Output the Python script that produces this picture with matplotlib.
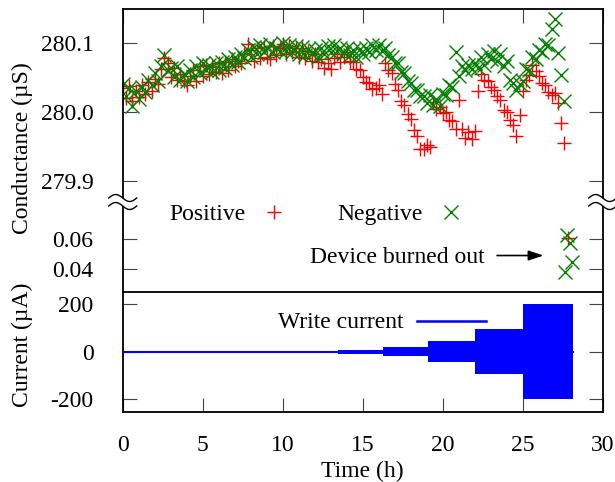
import matplotlib
matplotlib.use("Agg")
import matplotlib.pyplot as plt
import numpy as np
from matplotlib.lines import Line2D
from matplotlib.patches import Polygon

plt.rcParams["font.family"] = ["Liberation Serif", "DejaVu Serif"]
plt.rcParams["font.size"] = 17
plt.rcParams["axes.unicode_minus"] = False

# conductance read every 0.2 h (uS), positive and negative read pulses
hours = np.round(np.arange(0.0, 27.61, 0.2), 1)

g_pos = [
    280.034, 280.020, 280.037, 280.015, 280.030, 280.021, 280.038, 280.026, 280.043, 280.030,
    280.048, 280.040, 280.062, 280.078, 280.070, 280.050, 280.063, 280.046, 280.054, 280.044,
    280.038, 280.052, 280.060, 280.044, 280.066, 280.052, 280.068, 280.054, 280.065, 280.058,
    280.070, 280.056, 280.072, 280.060, 280.077, 280.066, 280.074, 280.070, 280.084, 280.098,
    280.090, 280.074, 280.092, 280.078, 280.094, 280.080, 280.076, 280.095, 280.082, 280.092,
    280.098, 280.083, 280.095, 280.086, 280.093, 280.079, 280.092, 280.078, 280.088, 280.074,
    280.084, 280.072, 280.076, 280.064, 280.070, 280.062, 280.078, 280.084, 280.072, 280.080,
    280.086, 280.074, 280.072, 280.062, 280.060, 280.050, 280.043, 280.042, 280.033, 280.035,
    280.038, 280.026, 280.070, 280.060, 280.056, 280.040, 280.032, 280.016, 280.010, 279.996,
    279.990, 279.973, 279.964, 279.946, 279.946, 279.952, 279.949, 280.014, 280.004, 280.007,
    279.998, 279.999, 279.988, 279.987, 279.975, 280.017, 279.975, 279.962, 279.970, 279.960,
    279.972, 280.030, 280.054, 280.046, 280.044, 280.036, 280.032, 280.022, 280.017, 280.003,
    280.000, 279.988, 279.980, 279.964, 279.995, 280.030, 280.046, 280.053, 280.067, 280.059,
    280.052, 280.042, 280.038, 280.028, 280.024, 280.027, 280.013, 279.984, 279.955,
]

g_neg = [
    280.040, 280.022, 280.034, 280.008, 280.030, 280.018, 280.036, 280.028, 280.046, 280.038,
    280.056, 280.044, 280.066, 280.082, 280.060, 280.064, 280.050, 280.066, 280.046, 280.055,
    280.044, 280.060, 280.050, 280.066, 280.056, 280.070, 280.060, 280.068, 280.058, 280.070,
    280.060, 280.072, 280.064, 280.076, 280.068, 280.080, 280.072, 280.084, 280.078, 280.090,
    280.080, 280.094, 280.084, 280.096, 280.086, 280.092, 280.098, 280.086, 280.093, 280.088,
    280.100, 280.088, 280.097, 280.086, 280.095, 280.084, 280.094, 280.082, 280.091, 280.084,
    280.090, 280.080, 280.093, 280.084, 280.095, 280.086, 280.096, 280.088, 280.093, 280.085,
    280.092, 280.082, 280.090, 280.080, 280.091, 280.084, 280.093, 280.086, 280.096, 280.090,
    280.097, 280.088, 280.093, 280.082, 280.080, 280.070, 280.070, 280.058, 280.056, 280.044,
    280.042, 280.032, 280.032, 280.022, 280.022, 280.013, 280.024, 280.010, 280.018, 280.008,
    280.026, 280.024, 280.038, 280.036, 280.087, 280.052, 280.066, 280.060, 280.068, 280.062,
    280.070, 280.064, 280.080, 280.068, 280.083, 280.076, 280.088, 280.074, 280.084, 280.066,
    280.074, 280.046, 280.042, 280.032, 280.040, 280.044, 280.062, 280.060, 280.080, 280.076,
    280.090, 280.086, 280.098, 280.096, 280.120, 280.135, 280.085, 280.053, 280.015,
]

# last readings after the device burned out
burn_pos_t = [27.85]
burn_pos_g = [0.0607]
burn_neg_t = [27.65, 27.75, 27.95, 28.05]
burn_neg_g = [0.0378, 0.063, 0.0573, 0.045]

# write current stages (uA amplitude)
stage_start = [0.0, 5.35, 13.48, 16.29, 19.10, 22.02, 25.04]
stage_end = [5.35, 13.48, 16.29, 19.10, 22.02, 25.04, 28.16]
stage_amp = [1.5, 3, 8, 20, 45, 95, 200]

time_ticks = [0, 5, 10, 15, 20, 25, 30]

RED = "#ff0000"
GREEN = "#008000"
BLUE = "#0000ff"
W, H = 615, 482


def px_box(left, top, right, bottom):
    return [left / W, 1 - bottom / H, (right - left) / W, (bottom - top) / H]


def break_mark(fig, xc, yc):
    u = np.linspace(0, 1, 40)
    xs = (xc - 14 + 28 * u) / W
    wave = 3.5 * np.sin(2 * np.pi * u) / H
    up = (H - (yc - 4)) / H + wave
    lo = (H - (yc + 4)) / H + wave
    poly = np.column_stack([np.r_[xs, xs[::-1]], np.r_[up, lo[::-1]]])
    fig.patches.append(Polygon(poly, closed=True, transform=fig.transFigure,
                               facecolor="white", edgecolor="none", zorder=5))
    for ys in (up, lo):
        fig.lines.append(Line2D(xs, ys, transform=fig.transFigure, color="black",
                                lw=1.0, zorder=6))


fig = plt.figure(figsize=(6.15, 4.82), dpi=100)
ax_top = fig.add_axes(px_box(122.7, 8.7, 602.7, 201.7))
ax_mid = fig.add_axes(px_box(122.7, 201.7, 602.7, 291.7))
ax_bot = fig.add_axes(px_box(122.7, 291.7, 602.7, 411.7))

for ax in (ax_top, ax_mid, ax_bot):
    ax.set_xlim(0, 30)
    ax.set_xticks(time_ticks)
    for s in ax.spines.values():
        s.set_linewidth(1.3)
    ax.tick_params(direction="in", length=10, width=0.8, color="#444444",
                   left=True, right=True, labelsize=17)
    ax.tick_params(axis="y", pad=21)

# top: conductance around 280 uS
ax_top.plot(hours, g_pos, ls="none", marker="+", ms=10, mew=1.0, color=RED)
ax_top.plot(hours, g_neg, ls="none", marker="x", ms=10.5, mew=1.0, color=GREEN)
ax_top.set_ylim(279.8693, 280.1494)
ax_top.set_yticks([279.9, 280.0, 280.1])
ax_top.set_yticklabels(["279.9", "280.0", "280.1"])
ax_top.spines["bottom"].set_visible(False)
ax_top.tick_params(axis="x", top=True, bottom=False, labelbottom=False, labeltop=False)

# middle: burned-out readings
ax_mid.plot(burn_pos_t, burn_pos_g, ls="none", marker="+", ms=10, mew=1.0, color=RED)
ax_mid.plot(burn_neg_t, burn_neg_g, ls="none", marker="x", ms=10.5, mew=1.0, color=GREEN)
ax_mid.set_ylim(0.0249, 0.0851)
ax_mid.set_yticks([0.04, 0.06])
ax_mid.set_yticklabels(["0.04", "0.06"])
ax_mid.spines["top"].set_visible(False)
ax_mid.spines["bottom"].set_visible(False)
ax_mid.tick_params(axis="x", top=False, bottom=False, labelbottom=False)

ax_mid.text(0.257, 0.797, "Positive", transform=ax_mid.transAxes, ha="right", va="baseline")
ax_mid.plot([0.315], [0.886], transform=ax_mid.transAxes, marker="+", ms=10, mew=1.0,
            color=RED, clip_on=False)
ax_mid.text(0.626, 0.797, "Negative", transform=ax_mid.transAxes, ha="right", va="baseline")
ax_mid.plot([0.683], [0.886], transform=ax_mid.transAxes, marker="x", ms=10.5, mew=1.0,
            color=GREEN, clip_on=False)
ax_mid.text(22.64, 0.044, "Device burned out", ha="right", va="baseline")
ax_mid.annotate("", xy=(26.3, 0.0491), xytext=(23.4, 0.0491),
                arrowprops=dict(arrowstyle="-|>,head_length=0.45,head_width=0.15",
                                mutation_scale=20, color="black", lw=1.2,
                                shrinkA=0, shrinkB=0))

# bottom: write current
ax_bot.plot([stage_start[0], stage_end[-1]], [0, 0], color=BLUE, lw=1.5)
for s, e, a in zip(stage_start, stage_end, stage_amp):
    ax_bot.fill_between([s, e], -a, a, color=BLUE, lw=0)
ax_bot.set_ylim(-252, 252)
ax_bot.set_yticks([-200, 0, 200])
ax_bot.tick_params(axis="x", top=False, bottom=True, pad=16.5)
ax_bot.text(0.584, 0.695, "Write current", transform=ax_bot.transAxes, ha="right",
            va="baseline")
ax_bot.plot([0.6125, 0.7563], [0.758, 0.758], transform=ax_bot.transAxes, color=BLUE, lw=1.8)

break_mark(fig, 122.7, 202)
break_mark(fig, 602.7, 202)

fig.text(22 / W, 1 - 148 / H, "Conductance (µS)", rotation=90, ha="center", va="center")
fig.text(22 / W, 1 - 345 / H, "Current (µA)", rotation=90, ha="center", va="center")
fig.text(362.7 / W, 1 - 461 / H, "Time (h)", ha="center", va="top")

fig.savefig("out.png", dpi=100)
